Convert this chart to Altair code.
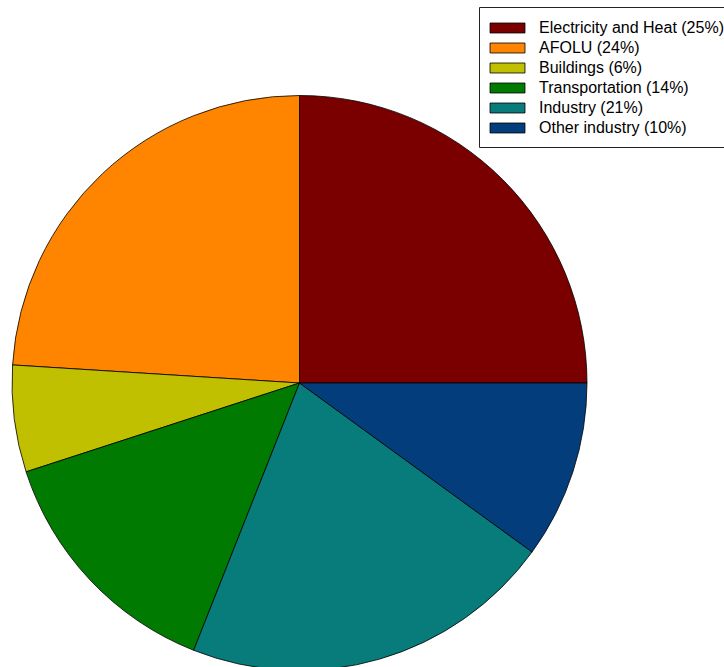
import altair as alt
import pandas as pd

# Sector shares of emissions, listed in legend order
sectors = [
    "Electricity and Heat (25%)",
    "AFOLU (24%)",
    "Buildings (6%)",
    "Transportation (14%)",
    "Industry (21%)",
    "Other industry (10%)",
]
shares = [25, 24, 6, 14, 21, 10]
colors = ["#7a0000", "#ff8500", "#c0c000", "#007a00", "#087b7b", "#033d7b"]
# clockwise drawing order starting at 12 o'clock
wedge_order = [0, 5, 4, 3, 2, 1]

df = pd.DataFrame({
    "sector": sectors,
    "share": shares,
    "rank": wedge_order,
})

chart = (
    alt.Chart(df)
    .mark_arc(radius=287.5, stroke="#000000", strokeWidth=0.8)
    .encode(
        theta=alt.Theta("share:Q", stack=True),
        order=alt.Order("rank:Q"),
        color=alt.Color(
            "sector:N",
            sort=sectors,
            scale=alt.Scale(domain=sectors, range=colors),
            legend=alt.Legend(
                title=None,
                orient="none",
                legendX=467,
                legendY=-92,
                padding=11,
                strokeColor="#222222",
                fillColor="#ffffff",
                # wide flat swatch, 35 x 10 px at this symbol size
                symbolType="M-1.05,-0.526H2.63V0.526H-1.05Z",
                symbolSize=361,
                symbolStrokeColor="#000000",
                symbolStrokeWidth=0.8,
                symbolOpacity=1,
                labelFont="Liberation Sans",
                labelFontSize=16,
                labelColor="#000000",
                labelOffset=29,
                labelLimit=400,
                rowPadding=2,
            ),
        ),
    )
    .properties(
        width=575,
        height=568,
        autosize=alt.AutoSizeParams(type="none"),
        padding={"left": 12, "top": 99, "right": 137, "bottom": 0},
    )
    .configure_view(stroke=None)
    .configure_legend(strokeWidth=1, cornerRadius=0)
)

chart.save("out.html", embed_options={"renderer": "svg", "actions": False})
